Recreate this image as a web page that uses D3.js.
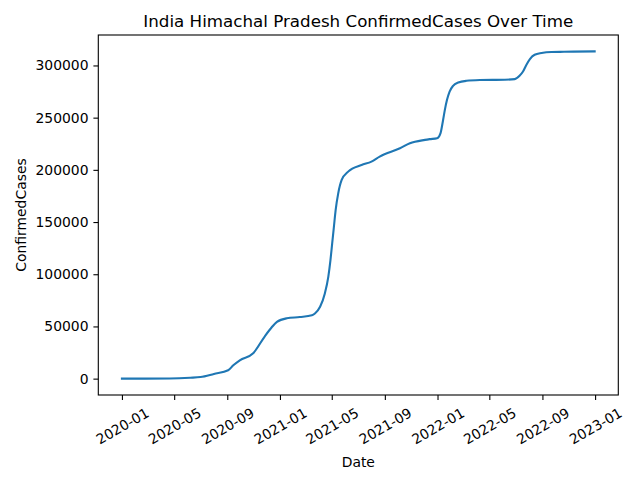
<!DOCTYPE html>
<html lang="en">
<head>
    <meta charset="UTF-8">
    <title>India Himachal Pradesh ConfirmedCases Over Time</title>
    <script src="https://d3js.org/d3.v7.min.js"></script>
    <style>
        body { margin: 0; background: #fff; }
        svg { font-family: "DejaVu Sans", sans-serif; }
    </style>
</head>
<body>
    <svg width="640" height="480"></svg>
    <script>
        // values
        const dates = [
            "2020-01-01", "2020-04-21", "2020-06-07", "2020-07-01", "2020-08-01",
            "2020-09-03", "2020-09-15", "2020-09-30", "2020-10-31", "2020-11-27",
            "2020-12-13", "2020-12-25", "2021-01-17", "2021-02-16", "2021-03-16",
            "2021-03-23", "2021-04-04", "2021-04-15", "2021-04-23", "2021-04-28",
            "2021-05-02", "2021-05-06", "2021-05-10", "2021-05-16", "2021-05-24",
            "2021-06-08", "2021-07-09", "2021-08-01", "2021-08-20", "2021-10-06",
            "2021-10-29", "2021-12-03", "2021-12-14", "2021-12-31", "2022-01-08",
            "2022-01-14", "2022-01-18", "2022-01-23", "2022-01-29", "2022-02-06",
            "2022-02-18", "2022-03-09", "2022-04-09", "2022-06-06", "2022-06-29",
            "2022-07-10", "2022-07-18", "2022-07-26", "2022-08-03", "2022-08-14",
            "2022-08-30", "2022-09-22", "2022-10-21", "2022-12-31"
        ];
        const confirmed = [
            0, 100, 800, 1500, 4500,
            8000, 12800, 17600, 24300, 40600,
            49200, 54400, 57800, 59000, 60700,
            62400, 68800, 81600, 97500, 113500,
            129500, 145500, 161500, 177500, 190300,
            198300, 204700, 207900, 212700, 220700,
            225500, 228700, 229400, 230300, 235200,
            248000, 257500, 267100, 275000, 280500,
            283700, 285300, 286000, 286300, 286900,
            290100, 294200, 300700, 306100, 310200,
            311900, 312900, 313100, 313500
        ];
        const yTicks = [0, 50000, 100000, 150000, 200000, 250000, 300000];
        const xTicks = ["2020-01", "2020-05", "2020-09", "2021-01", "2021-05",
                        "2021-09", "2022-01", "2022-05", "2022-09", "2023-01"];

        const parse = d3.utcParse("%Y-%m-%d");
        const data = dates.map((d, i) => ({ date: parse(d), value: confirmed[i] }));

        const svg = d3.select("svg"),
              margin = {top: 35, right: 21.7, bottom: 85, left: 98.3},
              width = +svg.attr("width") - margin.left - margin.right,
              height = +svg.attr("height") - margin.top - margin.bottom,
              g = svg.append("g").attr("transform", `translate(${margin.left},${margin.top})`);

        // matplotlib-style 5% padding on both axes
        const [d0, d1] = d3.extent(data, d => d.date);
        const dPad = (d1 - d0) * 0.05;
        const x = d3.scaleUtc()
                    .domain([new Date(+d0 - dPad), new Date(+d1 + dPad)])
                    .range([0, width]);

        const [v0, v1] = d3.extent(data, d => d.value);
        const vPad = (v1 - v0) * 0.05;
        const y = d3.scaleLinear()
                    .domain([v0 - vPad, v1 + vPad])
                    .range([height, 0]);

        const xAxis = g.append("g")
         .attr("transform", `translate(0,${height})`)
         .call(d3.axisBottom(x)
               .tickValues(xTicks.map(t => d3.utcParse("%Y-%m")(t)))
               .tickFormat(d3.utcFormat("%Y-%m"))
               .tickSize(4.9).tickSizeOuter(0));
        xAxis.selectAll(".tick text")
         .attr("y", null).attr("dy", null)
         .attr("text-anchor", "middle")
         .attr("dominant-baseline", "central")
         .attr("transform", "translate(0,31) rotate(-30)");

        const yAxis = g.append("g")
         .call(d3.axisLeft(y)
               .tickValues(yTicks)
               .tickFormat(d3.format("d"))
               .tickSize(4.9).tickPadding(4.9).tickSizeOuter(0));

        [xAxis, yAxis].forEach(a => {
            a.attr("font-family", "DejaVu Sans").attr("font-size", 13.9);
            a.select(".domain").remove();
            a.selectAll(".tick line").attr("stroke-width", 1.1);
            a.selectAll(".tick text").attr("fill", "#000");
        });

        // frame
        g.append("rect")
         .attr("width", width).attr("height", height)
         .attr("fill", "none").attr("stroke", "#000").attr("stroke-width", 1.1);

        const line = d3.line()
                       .x(d => x(d.date))
                       .y(d => y(d.value))
                       .curve(d3.curveMonotoneX);

        g.append("path")
         .datum(data)
         .attr("fill", "none")
         .attr("stroke", "#1f77b4")
         .attr("stroke-width", 2.1)
         .attr("stroke-linejoin", "round")
         .attr("stroke-linecap", "square")
         .attr("d", line);

        svg.append("text")
           .attr("x", margin.left + width / 2)
           .attr("y", 27)
           .attr("text-anchor", "middle")
           .style("font-size", "16.7px")
           .text("India Himachal Pradesh ConfirmedCases Over Time");

        svg.append("text")
           .attr("x", margin.left + width / 2)
           .attr("y", 467)
           .attr("text-anchor", "middle")
           .style("font-size", "13.9px")
           .text("Date");

        svg.append("text")
           .attr("transform", `translate(26,${margin.top + height / 2}) rotate(-90)`)
           .attr("text-anchor", "middle")
           .style("font-size", "13.9px")
           .text("ConfirmedCases");
    </script>
</body>
</html>
